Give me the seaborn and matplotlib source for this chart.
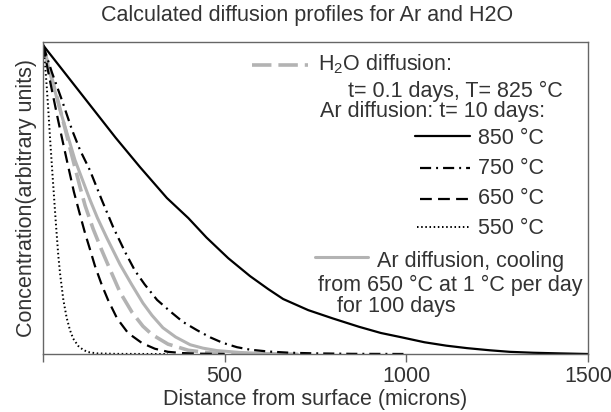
import matplotlib
matplotlib.use("Agg")
import matplotlib.pyplot as plt
import seaborn as sns
import pandas as pd

# ---- data (distance in microns, concentration in arbitrary units) ----
ar850_x = [0, 50, 100, 150, 200, 267, 341, 400, 450, 510, 570, 620, 661, 730, 798, 870, 930,
           983, 1050, 1110, 1167, 1230, 1285, 1350, 1420, 1500]
ar850_y = [1.0, 0.925, 0.85, 0.775, 0.70, 0.605, 0.505, 0.44, 0.377, 0.31, 0.252, 0.21, 0.178,
           0.142, 0.115, 0.088, 0.068, 0.055, 0.038, 0.027, 0.019, 0.012, 0.007, 0.004, 0.002, 0.0]

ar750_x = [0, 25, 52, 80, 102, 129, 162, 193, 226, 253, 280, 314, 350, 385, 424, 460, 495, 534,
           570, 620, 680, 750, 850, 1000]
ar750_y = [1.0, 0.91, 0.822, 0.725, 0.66, 0.595, 0.498, 0.411, 0.33, 0.27, 0.225, 0.175, 0.138,
           0.104, 0.077, 0.054, 0.036, 0.022, 0.014, 0.008, 0.004, 0.002, 0.0005, 0.0]

ar650_x = [0, 20, 41, 52, 66, 85, 102, 116, 129, 143, 162, 179, 204, 234, 273, 308, 344, 383, 430, 500]
ar650_y = [1.0, 0.88, 0.76, 0.70, 0.625, 0.525, 0.45, 0.39, 0.34, 0.285, 0.223, 0.175, 0.115,
           0.068, 0.035, 0.017, 0.007, 0.003, 0.001, 0.0]

ar550_x = [0, 5.5, 10, 14.6, 19.3, 25.6, 30.3, 35, 42, 47, 56, 65, 74, 83, 97, 111, 125, 148, 200, 344]
ar550_y = [1.0, 0.94, 0.87, 0.79, 0.70, 0.59, 0.51, 0.43, 0.32, 0.26, 0.175, 0.118, 0.078, 0.05,
           0.026, 0.013, 0.006, 0.002, 0.0005, 0.0]

h2o_x = [0, 20, 41, 66, 80, 102, 116, 138, 162, 184, 212, 245, 275, 300, 344, 400, 455, 500, 560]
h2o_y = [1.0, 0.91, 0.82, 0.705, 0.64, 0.54, 0.48, 0.405, 0.335, 0.275, 0.20, 0.135, 0.09, 0.063,
         0.032, 0.012, 0.004, 0.0015, 0.0]

cool_x = [0, 25, 47, 88, 129, 150, 176, 212, 244, 275, 300, 330, 365, 405, 440, 479, 542, 600, 700]
cool_y = [1.0, 0.885, 0.79, 0.628, 0.50, 0.44, 0.375, 0.29, 0.225, 0.165, 0.125, 0.085, 0.055,
          0.03, 0.019, 0.011, 0.005, 0.002, 0.0]

xticks = [0, 500, 1000, 1500]
xtick_labels = ["", "500", "1000", "1500"]

# ---- style ----
sns.set_style("white")
plt.rcParams["font.family"] = ["Liberation Sans", "DejaVu Sans"]
plt.rcParams["mathtext.fontset"] = "custom"
plt.rcParams["mathtext.rm"] = "Liberation Sans"
plt.rcParams["mathtext.it"] = "Liberation Sans:italic"
plt.rcParams["lines.scale_dashes"] = False

TXT = "#333333"
GRAY = "#b3b3b3"
FS = 15.5

fig = plt.figure(figsize=(6.11, 4.12), dpi=100)
ax = fig.add_axes([43 / 611, 1 - 354 / 412, 545 / 611, 312 / 412])

styles = {
    "solid": dict(color="black", linewidth=1.6, linestyle="-"),
    "dashdot": dict(color="black", linewidth=1.6, linestyle=(0, (8.0, 3.6, 1.4, 3.6))),
    "dashed": dict(color="black", linewidth=1.6, linestyle=(0, (8.5, 4.5))),
    "dotted": dict(color="black", linewidth=1.4, linestyle=(0, (1.1, 1.9))),
    "h2o": dict(color=GRAY, linewidth=2.6, linestyle=(0, (14.0, 5.0))),
    "cool": dict(color=GRAY, linewidth=2.2, linestyle="-"),
}

series = [
    (cool_x, cool_y, "cool"),
    (h2o_x, h2o_y, "h2o"),
    (ar850_x, ar850_y, "solid"),
    (ar750_x, ar750_y, "dashdot"),
    (ar650_x, ar650_y, "dashed"),
    (ar550_x, ar550_y, "dotted"),
]
for xs, ys, key in series:
    df = pd.DataFrame({"x": xs, "y": ys})
    sns.lineplot(data=df, x="x", y="y", ax=ax, estimator=None, sort=False, **styles[key])

ax.set_xlim(0, 1500)
ax.set_ylim(0, 1.01)
ax.set_xticks(xticks)
ax.set_xticklabels(xtick_labels)
ax.set_yticks([])
ax.tick_params(axis="x", direction="out", length=6, width=1, color="#666666",
               labelsize=FS, labelcolor=TXT, pad=3, bottom=True)
for s in ax.spines.values():
    s.set_color("#666666")
    s.set_linewidth(1.0)

ax.set_xlabel("Distance from surface (microns)", fontsize=FS, color=TXT, labelpad=1)
ax.set_ylabel("Concentration(arbitrary units)", fontsize=FS, color=TXT, labelpad=4)
fig.text(307 / 611, 1 - 16 / 412, "Calculated diffusion profiles for Ar and H2O",
         ha="center", va="center", fontsize=FS, color=TXT)

# ---- custom legend (axes fraction) ----
def handle(x0, x1, y, key):
    ax.plot([x0, x1], [y, y], transform=ax.transAxes, clip_on=False, **styles[key])

def label(x, y, s):
    ax.text(x, y, s, transform=ax.transAxes, ha="left", va="center", fontsize=FS, color=TXT)

handle(0.383, 0.486, 0.926, "h2o")
label(0.505, 0.930, r"H$_\mathregular{2}$O diffusion:")
label(0.560, 0.840, "t= 0.1 days, T= 825 °C")
label(0.508, 0.776, "Ar diffusion: t= 10 days:")
handle(0.683, 0.783, 0.699, "solid")
label(0.798, 0.692, "850 °C")
handle(0.692, 0.783, 0.596, "dashdot")
label(0.798, 0.596, "750 °C")
handle(0.692, 0.783, 0.497, "dashed")
label(0.798, 0.497, "650 °C")
handle(0.687, 0.783, 0.407, "dotted")
label(0.798, 0.401, "550 °C")
handle(0.499, 0.596, 0.311, "cool")
label(0.613, 0.295, "Ar diffusion, cooling")
label(0.505, 0.221, "from 650 °C at 1 °C per day")
label(0.539, 0.151, "for 100 days")

fig.savefig("out.png", dpi=100)
